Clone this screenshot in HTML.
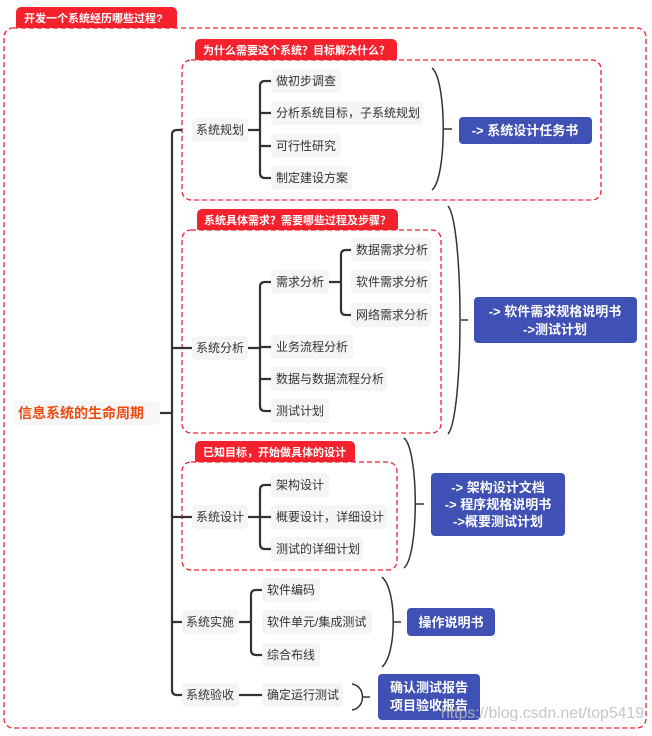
<!DOCTYPE html>
<html><head><meta charset="utf-8"><style>
body{margin:0;background:#fff;}
svg text{font-family:"Liberation Sans","Noto Sans CJK SC",sans-serif;}
.l{font-size:12px;fill:#333;}
.t{font-size:11px;fill:#fff;font-weight:bold;}
.b{font-size:13px;fill:#fff;font-weight:bold;}
</style></head><body>
<svg width="652" height="731" viewBox="0 0 652 731" xmlns="http://www.w3.org/2000/svg">
<rect x="16" y="7" width="161" height="24" rx="5" fill="#f5212d"/>
<text x="24" y="22" class="t">开发一个系统经历哪些过程?</text>
<rect x="4" y="28" width="642" height="700" rx="9" fill="#fff" stroke="#f5212d" stroke-width="1.3" stroke-dasharray="5,3"/>
<rect x="195" y="39" width="202" height="24" rx="5" fill="#f5212d"/>
<text x="203" y="54" class="t">为什么需要这个系统？目标解决什么？</text>
<rect x="182" y="60" width="419" height="140" rx="9" fill="#fff" stroke="#f5212d" stroke-width="1.3" stroke-dasharray="5,3"/>
<rect x="197" y="209" width="201" height="24" rx="5" fill="#f5212d"/>
<text x="204" y="224" class="t">系统具体需求？需要哪些过程及步骤？</text>
<rect x="182" y="230" width="259" height="203" rx="9" fill="#fff" stroke="#f5212d" stroke-width="1.3" stroke-dasharray="5,3"/>
<rect x="195" y="441" width="160" height="24" rx="5" fill="#f5212d"/>
<text x="203" y="456" class="t">已知目标，开始做具体的设计</text>
<rect x="182" y="462" width="215" height="108" rx="9" fill="#fff" stroke="#f5212d" stroke-width="1.3" stroke-dasharray="5,3"/>

<g fill="none" stroke="#333" stroke-width="2.2">
<path d="M160,413 H172 M182,130 H177 Q172,130 172,135 V690 Q172,695 177,695 H182 M172,348 H192 M172,517 H192 M172,622 H182"/>
<path d="M247,130 H260 M271,81 H265 Q260,81 260,86 V173 Q260,178 265,178 H271 M260,113 H271 M260,146 H271"/>
<path d="M247,348 H260 M271,282 H265 Q260,282 260,287 V406 Q260,411 265,411 H271 M260,347 H271 M260,379 H271"/>
<path d="M329,282 H341 M351,250 H346 Q341,250 341,255 V310 Q341,315 346,315 H351"/>
<path d="M247,517 H260 M271,485 H265 Q260,485 260,490 V544 Q260,549 265,549 H271 M260,517 H271"/>
<path d="M239,622 H251 M262,590 H256 Q251,590 251,595 V650 Q251,655 256,655 H262"/>
<path d="M239,695 H262"/>
</g>
<g fill="none" stroke="#333" stroke-width="1.5">
<path d="M432,68 C447,80 447,178 432,190 M444,129 H452"/>
<path d="M448,206 C464,225 464,415 448,434 M461,320 H468"/>
<path d="M404,438 C419,450 419,556 404,568 M416,504 H424"/>
<path d="M382,577 C397,590 397,654 382,667 M394,622 H401"/>
<path d="M352,684 C366,686 366,708 352,710 M363,697 H370"/>
</g>

<rect x="14" y="401" width="146" height="24" rx="4" fill="#f7f7f7"/>
<text x="18" y="418" font-size="14" font-weight="bold" fill="#f04a10">信息系统的生命周期</text>

<g fill="#f5f5f5">
<rect x="192" y="118" width="56" height="24" rx="4"/>
<rect x="192" y="336" width="56" height="24" rx="4"/>
<rect x="192" y="505" width="56" height="24" rx="4"/>
<rect x="182" y="610" width="57" height="24" rx="4"/>
<rect x="182" y="683" width="57" height="24" rx="4"/>
<rect x="271" y="69" width="70" height="24" rx="4"/>
<rect x="271" y="101" width="152" height="24" rx="4"/>
<rect x="271" y="134" width="70" height="24" rx="4"/>
<rect x="271" y="166" width="81" height="24" rx="4"/>
<rect x="271" y="270" width="58" height="24" rx="4"/>
<rect x="351" y="238" width="80" height="24" rx="4"/>
<rect x="351" y="270" width="80" height="24" rx="4"/>
<rect x="351" y="303" width="80" height="24" rx="4"/>
<rect x="271" y="335" width="82" height="24" rx="4"/>
<rect x="271" y="367" width="116" height="24" rx="4"/>
<rect x="271" y="399" width="58" height="24" rx="4"/>
<rect x="271" y="473" width="58" height="24" rx="4"/>
<rect x="271" y="505" width="116" height="24" rx="4"/>
<rect x="271" y="537" width="92" height="24" rx="4"/>
<rect x="262" y="578" width="58" height="24" rx="4"/>
<rect x="262" y="610" width="110" height="24" rx="4"/>
<rect x="262" y="643" width="58" height="24" rx="4"/>
<rect x="262" y="683" width="81" height="24" rx="4"/>
</g>
<g>
<text x="196" y="134" class="l">系统规划</text>
<text x="196" y="352" class="l">系统分析</text>
<text x="196" y="521" class="l">系统设计</text>
<text x="186" y="626" class="l">系统实施</text>
<text x="186" y="699" class="l">系统验收</text>
<text x="276" y="85" class="l">做初步调查</text>
<text x="276" y="117" class="l">分析系统目标，子系统规划</text>
<text x="276" y="150" class="l">可行性研究</text>
<text x="276" y="182" class="l">制定建设方案</text>
<text x="276" y="286" class="l">需求分析</text>
<text x="356" y="254" class="l">数据需求分析</text>
<text x="356" y="286" class="l">软件需求分析</text>
<text x="356" y="319" class="l">网络需求分析</text>
<text x="276" y="351" class="l">业务流程分析</text>
<text x="276" y="383" class="l">数据与数据流程分析</text>
<text x="276" y="415" class="l">测试计划</text>
<text x="276" y="489" class="l">架构设计</text>
<text x="276" y="521" class="l">概要设计，详细设计</text>
<text x="276" y="553" class="l">测试的详细计划</text>
<text x="267" y="594" class="l">软件编码</text>
<text x="267" y="626" class="l">软件单元/集成测试</text>
<text x="267" y="659" class="l">综合布线</text>
<text x="267" y="699" class="l">确定运行测试</text>
</g>

<g fill="#3f51b5">
<rect x="459" y="117" width="133" height="27" rx="4"/>
<rect x="474" y="297" width="163" height="46" rx="4"/>
<rect x="431" y="473" width="134" height="63" rx="4"/>
<rect x="407" y="608" width="88" height="28" rx="4"/>
<rect x="378" y="674" width="102" height="46" rx="4"/>
</g>
<g text-anchor="middle">
<text x="525" y="135" class="b">-&gt; 系统设计任务书</text>
<text x="555" y="316" class="b">-&gt; 软件需求规格说明书</text>
<text x="555" y="334" class="b">-&gt;测试计划</text>
<text x="498" y="492" class="b">-&gt; 架构设计文档</text>
<text x="498" y="509" class="b">-&gt; 程序规格说明书</text>
<text x="498" y="526" class="b">-&gt;概要测试计划</text>
<text x="451" y="627" class="b">操作说明书</text>
<text x="429" y="692" class="b">确认测试报告</text>
<text x="429" y="710" class="b">项目验收报告</text>
</g>
<text x="441" y="718" font-size="16" fill="#bbb" fill-opacity="0.85" textLength="203" lengthAdjust="spacingAndGlyphs">https://blog.csdn.net/top5419</text>
</svg>
</body></html>
